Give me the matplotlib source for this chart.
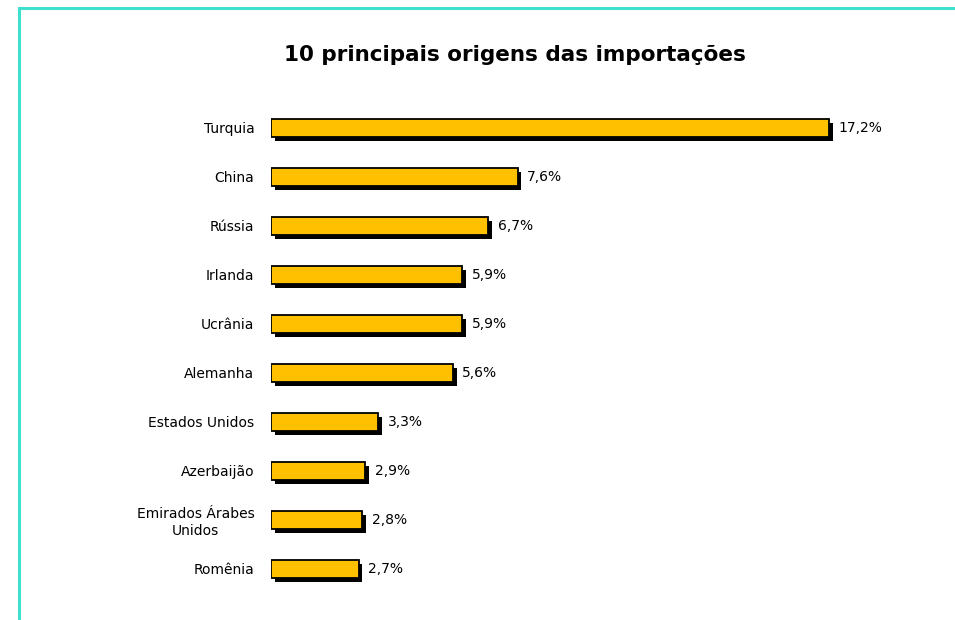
import matplotlib
matplotlib.use("Agg")
import matplotlib.pyplot as plt
import matplotlib.patheffects as pe
from matplotlib.patches import Rectangle

paises = ["Turquia", "China", "Rússia", "Irlanda", "Ucrânia", "Alemanha",
          "Estados Unidos", "Azerbaijão", "Emirados Árabes\nUnidos", "Romênia"]
valores = [17.2, 7.6, 6.7, 5.9, 5.9, 5.6, 3.3, 2.9, 2.8, 2.7]
rotulos = ["17,2%", "7,6%", "6,7%", "5,9%", "5,9%", "5,6%", "3,3%", "2,9%", "2,8%", "2,7%"]

plt.rcParams["font.family"] = ["DejaVu Sans"]

W, H = 955, 620
fig = plt.figure(figsize=(W / 100, H / 100), dpi=100)

# moldura turquesa (só lados esquerdo e superior visíveis)
fig.patches.append(Rectangle((19 / W, -0.1), 1.2, 1 - 8 / H + 0.1,
                             transform=fig.transFigure, fill=False,
                             edgecolor="#40E0D0", linewidth=2.2))

fig.text(515 / W, 1 - 55 / H, "10 principais origens das importações",
         ha="center", va="center", fontsize=15.5, fontweight="bold")

left, right = 271, 900
top, bottom = 103.5, 593.5
ax = fig.add_axes([left / W, 1 - bottom / H, (right - left) / W, (bottom - top) / H])
escala = (829 - 271) / 17.2
ax.set_xlim(0, (right - left) / escala)
ax.set_ylim(len(paises) - 0.5, -0.5)

y = list(range(len(paises)))
bars = ax.barh(y, valores, height=0.37, color="#FFC000",
               edgecolor="black", linewidth=1.3)
for b in bars:
    b.set_path_effects([pe.SimplePatchShadow(offset=(2.8, -2.8), shadow_rgbFace="black", alpha=1),
                        pe.Normal()])

for yi, v, t in zip(y, valores, rotulos):
    ax.annotate(t, (v, yi), xytext=(7, 0), textcoords="offset points",
                ha="left", va="center", fontsize=10)

ax.set_yticks(y)
ax.set_yticklabels(paises, fontsize=10, ha="right", multialignment="center")
ax.tick_params(axis="y", length=0, pad=12)
ax.set_xticks([])
for s in ax.spines.values():
    s.set_visible(False)

fig.savefig("out.png", dpi=100, facecolor="white")
